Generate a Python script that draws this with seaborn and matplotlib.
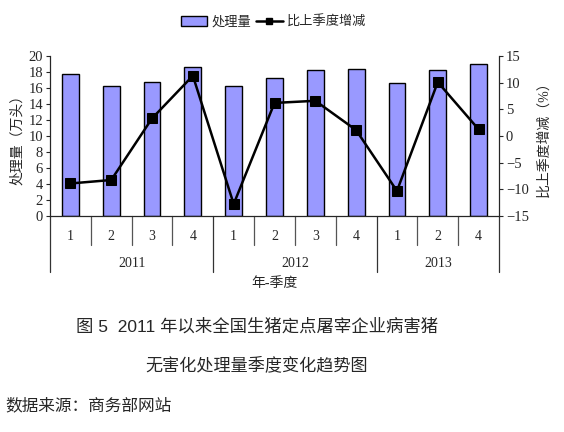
import matplotlib
matplotlib.use("Agg")
import matplotlib.pyplot as plt
import matplotlib.transforms as mtransforms
from matplotlib.patches import Patch
from matplotlib.lines import Line2D
import seaborn as sns
import pandas as pd

years = ["2011", "2012", "2013"]
quarters = ["1", "2", "3", "4", "1", "2", "3", "4", "1", "2", "4"]
year_of_bar = ["2011"] * 4 + ["2012"] * 4 + ["2013"] * 3
volume = [17.75, 16.2, 16.7, 18.6, 16.2, 17.2, 18.3, 18.4, 16.6, 18.2, 19.0]
change = [-8.9, -8.25, 3.3, 11.3, -12.75, 6.2, 6.6, 1.1, -10.3, 10.1, 1.25]

df = pd.DataFrame({
    "pos": list(range(len(quarters))),
    "quarter": quarters,
    "year": year_of_bar,
    "volume": volume,
    "change": change,
})

sns.set_style("white")
plt.rcParams["font.family"] = ["Liberation Serif", "Noto Sans CJK SC", "DejaVu Sans"]
plt.rcParams["axes.unicode_minus"] = True

fig = plt.figure(figsize=(5.64, 4.32), dpi=100)
ax = fig.add_axes([50 / 564, 0.5, 449 / 564, 160 / 432])

sns.barplot(data=df, x="pos", y="volume", color="#9999ff", edgecolor="black",
            linewidth=1.0, width=0.41, saturation=1, ax=ax)
ax.set_xlim(-0.5, len(quarters) - 0.5)
ax.set_ylim(0, 20)
ax.set_yticks(range(0, 21, 2))
ax.set_xticks([])
ax.set_xlabel("")
ax.set_ylabel("处理量（万头）", fontsize=10, labelpad=3)
ax.tick_params(axis="y", direction="out", length=3, width=0.8, labelsize=10.5,
               left=True, pad=2)
ax.spines["top"].set_visible(False)
for s in ["left", "bottom", "right"]:
    ax.spines[s].set_color("black")
    ax.spines[s].set_linewidth(0.8)

ax2 = ax.twinx()
sns.lineplot(data=df, x="pos", y="change", color="black", linewidth=1.8,
             marker="s", markersize=7.5, markeredgecolor="black", ax=ax2)
ax2.set_ylim(-15, 15)
ax2.set_yticks(range(-15, 16, 5))
ax2.set_xlabel("")
ax2.set_ylabel("比上季度增减（%）", fontsize=10, labelpad=6)
ax2.tick_params(axis="y", direction="out", length=3, width=0.8, labelsize=10.5,
                right=True, pad=2)
ax2.spines["top"].set_visible(False)
ax2.spines["right"].set_linewidth(0.8)
ax2.set_xlim(-0.5, len(quarters) - 0.5)

# category axis below the plot
trans = mtransforms.blended_transform_factory(ax.transData, ax.transAxes)
year_bounds = [-0.5, 3.5, 7.5, 10.5]
for i in range(len(quarters) - 1):
    b = i + 0.5
    if b in year_bounds:
        continue
    ax.plot([b, b], [0, -0.18], transform=trans, color="#555555", lw=0.9, clip_on=False)
for b in year_bounds:
    ax.plot([b, b], [0, -0.35], transform=trans, color="#333333", lw=0.9, clip_on=False)
for i, q in enumerate(quarters):
    ax.text(i, -0.13, q, transform=trans, ha="center", va="center", fontsize=10)
for k, y in enumerate(years):
    mid = (year_bounds[k] + year_bounds[k + 1]) / 2
    ax.text(mid, -0.295, y, transform=trans, ha="center", va="center", fontsize=10)
ax.text(0.5, -0.42, "年-季度", transform=ax.transAxes, ha="center", va="center",
        fontsize=10)

handles = [Patch(facecolor="#9999ff", edgecolor="black", linewidth=1.0),
           Line2D([0], [0], color="black", lw=1.8, marker="s", markersize=5)]
fig.legend(handles, ["处理量", "比上季度增减"], loc="center", bbox_to_anchor=(0.485, 0.949),
           ncol=2, frameon=False, fontsize=9.5, handlelength=2.0, columnspacing=0.4,
           handletextpad=0.3)

title_font = ["Liberation Sans", "Noto Sans CJK SC"]
fig.text(257 / 564, 0.245, "图 5  2011 年以来全国生猪定点屠宰企业病害猪", ha="center",
         va="center", fontsize=12.5, family=title_font)
fig.text(257 / 564, 0.155, "无害化处理量季度变化趋势图", ha="center", va="center",
         fontsize=12.3, family=title_font)
fig.text(5 / 564, 0.062, "数据来源：商务部网站", ha="left", va="center",
         fontsize=12, family=title_font)

fig.savefig("out.png", dpi=100)
